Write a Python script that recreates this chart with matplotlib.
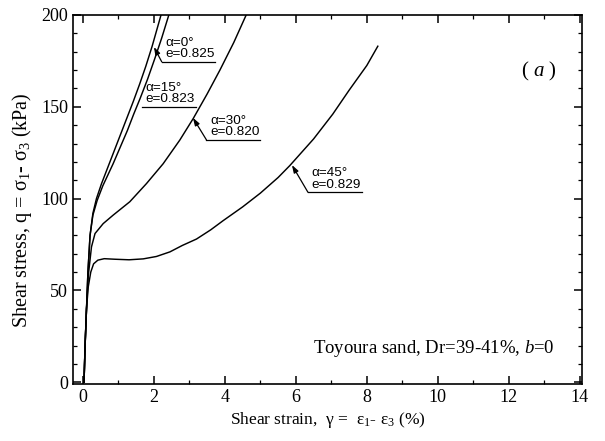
import matplotlib
matplotlib.use("Agg")
import matplotlib.pyplot as plt
from matplotlib.ticker import MultipleLocator

plt.rcParams['font.family'] = ['Liberation Serif', 'DejaVu Serif']
plt.rcParams['mathtext.fontset'] = 'custom'
plt.rcParams['mathtext.rm'] = 'Liberation Serif'
plt.rcParams['mathtext.it'] = 'Liberation Serif:italic'
plt.rcParams['mathtext.default'] = 'regular'

# shear strain (%) / shear stress q (kPa)
g0 = [0.03, 0.06, 0.1, 0.14, 0.2, 0.28, 0.38, 0.52, 0.72, 0.9, 1.06, 1.24, 1.42, 1.6, 1.77, 1.95, 2.2]
q0 = [0, 20, 40, 60, 80, 92, 100, 108, 118, 127, 135, 144, 153, 162.5, 172, 183, 200]

g15 = [0.03, 0.06, 0.1, 0.14, 0.2, 0.28, 0.4, 0.56, 0.85, 1.05, 1.25, 1.43, 1.62, 1.82, 2.02, 2.22, 2.42]
q15 = [0, 20, 40, 60, 80, 91, 99, 107, 119, 128, 137, 146, 155, 165, 176, 187.5, 200]

g30 = [0.03, 0.06, 0.1, 0.15, 0.24, 0.34, 0.57, 0.85, 1.32, 1.79, 2.26, 2.73, 3.11, 3.5, 3.86, 4.25, 4.6]
q30 = [0, 20, 40, 58, 73.7, 81, 86.4, 91, 98.3, 108.2, 119, 131.9, 143.7, 157, 170, 185, 200]

g45 = [0.03, 0.06, 0.1, 0.15, 0.22, 0.3, 0.42, 0.6, 0.9, 1.3, 1.7, 2.07, 2.45, 2.8, 3.2, 3.6, 3.95,
       4.5, 5.0, 5.5, 5.83, 6.5, 7.04, 7.5, 8.0, 8.31]
q45 = [0, 20, 40, 52, 60, 64.5, 66.5, 67.3, 67, 66.7, 67.2, 68.5, 71, 74.5, 78, 83, 88,
       95.5, 103, 111.5, 118, 132.5, 146, 159, 172.5, 183]

labels = ["α=0°\ne=0.825", "α=15°\ne=0.823", "α=30°\ne=0.820", "α=45°\ne=0.829"]
# arrow tip, elbow of leader, end of underline
tips = [(2.0, 182.6), (1.65, 150.0), (3.1, 144.0), (5.89, 118.3)]
elbows = [(2.22, 174.5), (1.65, 150.0), (3.48, 132.0), (6.34, 103.5)]
ends = [(3.72, 174.5), (3.2, 150.0), (4.99, 132.0), (7.86, 103.5)]


fig = plt.figure(figsize=(6.05, 4.41), dpi=100)
ax = fig.add_axes([0.1207, 0.129, 0.841, 0.837])

for g, q in [(g0, q0), (g15, q15), (g30, q30), (g45, q45)]:
    ax.plot(g, q, color='black', linewidth=1.05)

for lab, tip, elb, end in zip(labels, tips, elbows, ends):
    ax.annotate("", xy=tip, xytext=elb,
                arrowprops=dict(arrowstyle='-|>,head_length=0.45,head_width=0.15',
                                color='black', lw=0.9, shrinkA=0, shrinkB=0))
    ax.plot([elb[0], end[0]], [elb[1], end[1]], color='black', linewidth=0.9)
    ax.text(elb[0] + 0.1, elb[1] + 0.8, lab, fontsize=9.7, family=['Liberation Sans'],
            ha='left', va='bottom', linespacing=0.95)

ax.text(13.35, 169, "( $\\it{a}$ )", fontsize=15, ha='right', va='center')
ax.text(13.3, 18.5, "Toyoura sand, Dr=39-41%, $\\it{b}$=0", fontsize=13.5, ha='right', va='center')

ax.set_xlim(-0.28, 14.06)
ax.set_ylim(-1.0, 200)
ax.xaxis.set_major_locator(MultipleLocator(2))
ax.xaxis.set_minor_locator(MultipleLocator(1))
ax.yaxis.set_major_locator(MultipleLocator(50))
ax.yaxis.set_minor_locator(MultipleLocator(10))
ax.tick_params(which='both', direction='in', top=True, right=True, labelsize=13)
ax.tick_params(which='major', length=6, width=1.1)
ax.tick_params(which='minor', length=3, width=0.9)
for s in ax.spines.values():
    s.set_linewidth(1.2)

ax.set_xlabel("Shear strain,  γ =  ε$_1$- ε$_3$ (%)", fontsize=12.5, labelpad=3)
ax.set_ylabel("Shear stress, q = σ$_1$- σ$_3$ (kPa)", fontsize=14.5, labelpad=4)
ax.yaxis.set_label_coords(-0.077, 0.47)

fig.savefig("out.png", dpi=100)
